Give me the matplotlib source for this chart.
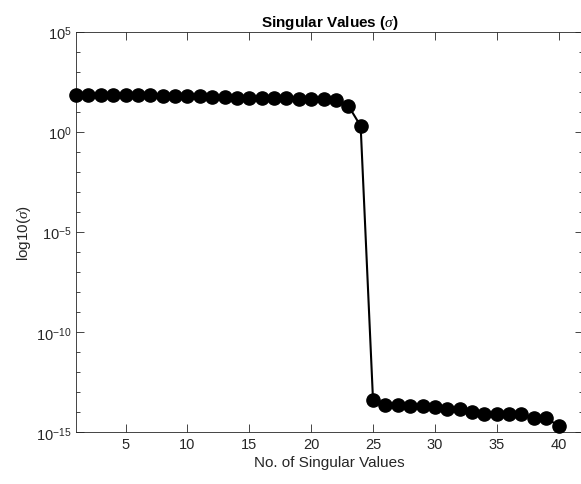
import numpy as np
import matplotlib
matplotlib.use('Agg')
import matplotlib.pyplot as plt
from matplotlib.ticker import FixedLocator, FuncFormatter

plt.rcParams['font.family'] = ['Liberation Sans', 'DejaVu Sans']
plt.rcParams['mathtext.fontset'] = 'custom'
plt.rcParams['mathtext.rm'] = 'Liberation Sans'
plt.rcParams['mathtext.it'] = 'Liberation Serif:italic'

# log10 of the singular values
indice = np.arange(1, 41)
log_sigma = [1.87, 1.87, 1.86, 1.86, 1.85, 1.84, 1.83, 1.82, 1.81, 1.80,
             1.78, 1.76, 1.74, 1.72, 1.71, 1.70, 1.69, 1.68, 1.67, 1.66,
             1.64, 1.62, 1.32, 0.30, -13.40, -13.63, -13.67, -13.69, -13.72, -13.77,
             -13.83, -13.87, -13.98, -14.08, -14.12, -14.12, -14.12, -14.30, -14.28, -14.70]
sigma = 10.0 ** np.array(log_sigma)

gris = '#262626'

fig = plt.figure(figsize=(5.81, 4.85), dpi=100)
# the right edge of the box falls just outside the picture
ax = fig.add_axes([0.131, 0.107, 0.873, 0.825])
ax.semilogy(indice, sigma, '-o', color='k', lw=1.5, ms=9.5, mfc='k', mec='k', clip_on=False, zorder=3)

ax.set_xlim(1, 42)
ax.set_ylim(1e-15, 1e5)
ax.set_xticks([5, 10, 15, 20, 25, 30, 35, 40])
ax.yaxis.set_major_locator(FixedLocator([1e-15, 1e-10, 1e-5, 1e0, 1e5]))
ax.yaxis.set_minor_locator(FixedLocator([10.0 ** k for k in range(-15, 6) if k % 5 != 0]))
ax.yaxis.set_major_formatter(FuncFormatter(lambda v, p: r'$10^{%d}$' % int(round(np.log10(v)))))
ax.yaxis.set_minor_formatter(FuncFormatter(lambda v, p: ''))

ax.tick_params(which='both', direction='in', top=True, right=True, colors=gris, labelsize=10.5)
ax.tick_params(which='major', length=5.5, width=0.6)
ax.tick_params(which='minor', length=3, width=0.6)
for s in ax.spines.values():
    s.set_color(gris)
    s.set_linewidth(0.6)

ax.set_title(r'Singular Values ($\sigma$)', fontsize=11, fontweight='bold', color='k', pad=4)
ax.set_xlabel('No. of Singular Values', fontsize=11, color=gris, labelpad=3)
ax.set_ylabel(r'log10($\sigma$)', fontsize=11, color=gris, labelpad=2)

fig.savefig('out.png', dpi=100)
